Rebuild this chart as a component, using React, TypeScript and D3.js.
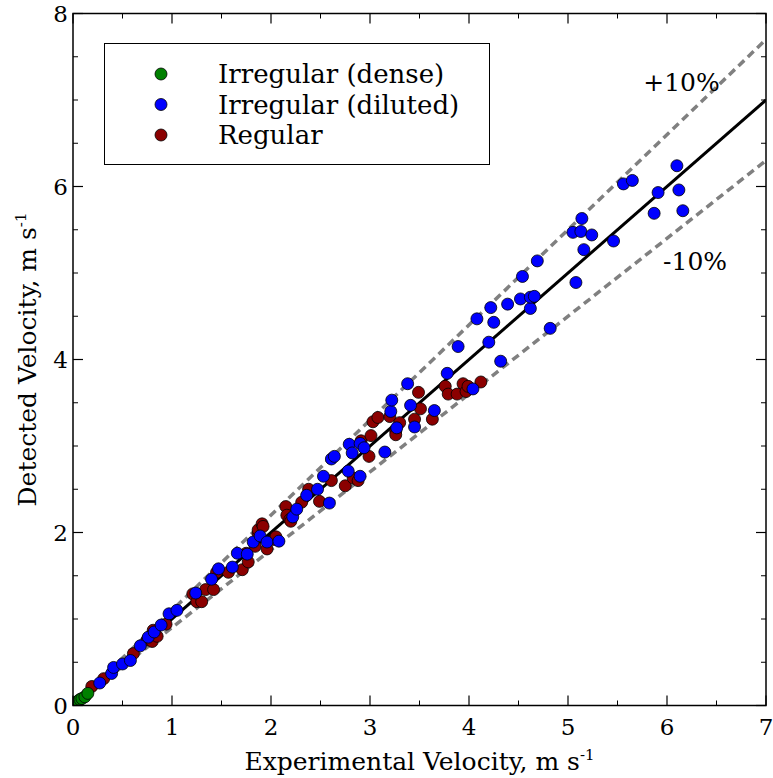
import React from 'react';
import * as d3 from 'd3';

// Measured velocities [experimental, detected], m/s
const dense: [number, number][] = [
  [0.02, 0.03], [0.04, 0.04], [0.05, 0.05], [0.07, 0.07], [0.09, 0.08], [0.12, 0.1], [0.15, 0.14],
];

const diluted: [number, number][] = [
  [0.27, 0.26], [0.39, 0.37], [0.41, 0.44], [0.5, 0.48], [0.58, 0.52], [0.68, 0.69], [0.76, 0.79],
  [0.82, 0.85], [0.89, 0.93], [0.97, 1.06], [1.05, 1.1], [1.24, 1.3], [1.4, 1.46], [1.47, 1.58],
  [1.61, 1.6], [1.66, 1.76], [1.76, 1.75], [1.82, 1.89], [1.89, 1.96], [1.96, 1.89], [2.08, 1.9],
  [2.22, 2.18], [2.26, 2.27], [2.36, 2.43], [2.47, 2.5], [2.53, 2.65], [2.59, 2.34], [2.61, 2.85],
  [2.64, 2.88], [2.78, 2.71], [2.79, 3.02], [2.82, 2.92], [2.9, 2.65], [2.9, 3.03], [2.94, 2.98],
  [3.15, 2.93], [3.21, 3.4], [3.22, 3.53], [3.27, 3.21], [3.38, 3.72], [3.41, 3.47], [3.45, 3.22],
  [3.65, 3.41], [3.78, 3.84], [3.89, 4.15], [4.04, 3.66], [4.08, 4.47], [4.2, 4.2], [4.22, 4.6],
  [4.25, 4.43], [4.32, 3.98], [4.39, 4.64], [4.52, 4.7], [4.54, 4.96], [4.62, 4.59], [4.62, 4.72],
  [4.66, 4.73], [4.69, 5.14], [4.82, 4.36], [5.05, 5.47], [5.08, 4.89], [5.13, 5.48], [5.14, 5.63],
  [5.16, 5.27], [5.24, 5.44], [5.46, 5.37], [5.56, 6.03], [5.65, 6.07], [5.87, 5.69], [5.91, 5.93],
  [6.1, 6.24], [6.12, 5.96], [6.16, 5.72],
];

const regular: [number, number][] = [
  [0.19, 0.22], [0.31, 0.31], [0.61, 0.6], [0.75, 0.76], [0.8, 0.74], [0.81, 0.87], [0.85, 0.8],
  [0.94, 0.94], [1.21, 1.29], [1.25, 1.2], [1.3, 1.2], [1.34, 1.34], [1.42, 1.34], [1.45, 1.54],
  [1.57, 1.54], [1.71, 1.57], [1.75, 1.76], [1.77, 1.66], [1.84, 1.84], [1.87, 1.99], [1.87, 2.03],
  [1.91, 2.1], [1.92, 2.07], [1.96, 1.81], [2.03, 1.92], [2.05, 1.95], [2.15, 2.3], [2.16, 2.2],
  [2.19, 2.15], [2.2, 2.13], [2.31, 2.35], [2.38, 2.5], [2.49, 2.36], [2.61, 2.6], [2.75, 2.54],
  [2.83, 2.63], [2.88, 2.6], [2.91, 3.06], [2.99, 2.88], [3.01, 3.12], [3.03, 3.28], [3.08, 3.33],
  [3.2, 3.34], [3.26, 3.17], [3.26, 3.13], [3.3, 3.27], [3.45, 3.31], [3.49, 3.62], [3.51, 3.43],
  [3.63, 3.31], [3.76, 3.69], [3.79, 3.6], [3.88, 3.6], [3.94, 3.72], [3.97, 3.63], [3.99, 3.69],
  [4.12, 3.74],
];

const seriesNames = ['Irregular (dense)', 'Irregular (diluted)', 'Regular'];
const seriesColors = ['#008000', '#0000ff', '#8b0000'];
const xTicks = [0, 1, 2, 3, 4, 5, 6, 7];
const yTicks = [0, 2, 4, 6, 8];
const bandFactors = [1.1, 0.9];

const W = 773;
const H = 778;
const margin = { left: 73, right: 7, top: 13.5, bottom: 72.5 };
const FONT = "'DejaVu Serif', serif";

export default function App() {
  const x = d3.scaleLinear().domain([0, 7]).range([margin.left, W - margin.right]);
  const y = d3.scaleLinear().domain([0, 8]).range([H - margin.bottom, margin.top]);
  const [x0, x1] = x.range();
  const [y0, y1] = y.range();

  const line = d3.line<[number, number]>().x(d => x(d[0])).y(d => y(d[1]));
  const xMinor = d3.range(0.5, 7, 1);
  const yMinor = d3.range(0, 8.01, 0.5).filter(v => v % 2 !== 0);

  const dot = (d: [number, number], i: number, color: string) => (
    <circle key={i} cx={x(d[0])} cy={y(d[1])} r={6} fill={color} stroke="#000" strokeWidth={0.8} />
  );

  return (
    <svg width={W} height={H} style={{ position: 'absolute', left: 0, top: 0, background: '#fff', fontFamily: FONT }}>
      <defs>
        <clipPath id="plot">
          <rect x={x0} y={y1} width={x1 - x0} height={y0 - y1} />
        </clipPath>
      </defs>

      <g clipPath="url(#plot)">
        {bandFactors.map(f => (
          <path key={f} d={line([[0, 0], [7, 7 * f]]) || ''} fill="none" stroke="#808080"
            strokeWidth={3.5} strokeDasharray="8,5" />
        ))}
        <path d={line([[0, 0], [7, 7]]) || ''} fill="none" stroke="#000" strokeWidth={3} />
        {regular.map((d, i) => dot(d, i, seriesColors[2]))}
        {diluted.map((d, i) => dot(d, i, seriesColors[1]))}
        {dense.map((d, i) => dot(d, i, seriesColors[0]))}
      </g>

      {/* band labels */}
      <text x={x(5.76)} y={y(7.1)} fontSize={25} fill="#000">+10%</text>
      <text x={x(5.96)} y={y(5.03)} fontSize={25} fill="#000">-10%</text>

      {/* frame */}
      <rect x={x0} y={y1} width={x1 - x0} height={y0 - y1} fill="none" stroke="#000" strokeWidth={1.5} />

      {/* x ticks, inward on bottom and top */}
      {xTicks.map(t => (
        <g key={'x' + t}>
          <line x1={x(t)} x2={x(t)} y1={y0} y2={y0 - 10} stroke="#000" strokeWidth={1.2} />
          <line x1={x(t)} x2={x(t)} y1={y1} y2={y1 + 10} stroke="#000" strokeWidth={1.2} />
          <text x={x(t)} y={y0 + 29} textAnchor="middle" fontSize={23}>{t}</text>
        </g>
      ))}
      {xMinor.map(t => (
        <g key={'xm' + t}>
          <line x1={x(t)} x2={x(t)} y1={y0} y2={y0 - 5} stroke="#000" strokeWidth={1} />
          <line x1={x(t)} x2={x(t)} y1={y1} y2={y1 + 5} stroke="#000" strokeWidth={1} />
        </g>
      ))}

      {/* y ticks, inward on left and right */}
      {yTicks.map(t => (
        <g key={'y' + t}>
          <line x1={x0} x2={x0 + 10} y1={y(t)} y2={y(t)} stroke="#000" strokeWidth={1.2} />
          <line x1={x1} x2={x1 - 10} y1={y(t)} y2={y(t)} stroke="#000" strokeWidth={1.2} />
          <text x={x0 - 5} y={y(t)} dy="0.36em" textAnchor="end" fontSize={23}>{t}</text>
        </g>
      ))}
      {yMinor.map(t => (
        <g key={'ym' + t}>
          <line x1={x0} x2={x0 + 5} y1={y(t)} y2={y(t)} stroke="#000" strokeWidth={1} />
          <line x1={x1} x2={x1 - 5} y1={y(t)} y2={y(t)} stroke="#000" strokeWidth={1} />
        </g>
      ))}

      {/* axis titles */}
      <text x={(x0 + x1) / 2} y={770} textAnchor="middle" fontSize={25}>
        Experimental Velocity, m s<tspan dy={-10} fontSize={15}>-1</tspan>
      </text>
      <text transform={`translate(36,${(y0 + y1) / 2}) rotate(-90)`} textAnchor="middle" fontSize={25}>
        Detected Velocity, m s<tspan dy={-10} fontSize={15}>-1</tspan>
      </text>

      {/* legend */}
      <rect x={104.5} y={43.5} width={385} height={121} fill="#fff" stroke="#000" strokeWidth={1} />
      {seriesNames.map((name, i) => (
        <g key={name} transform={`translate(0,${74 + i * 30.5})`}>
          <circle cx={161} cy={0} r={6} fill={seriesColors[i]} stroke="#000" strokeWidth={0.8} />
          <text x={218} y={0} dy="0.36em" fontSize={26}>{name}</text>
        </g>
      ))}
    </svg>
  );
}
